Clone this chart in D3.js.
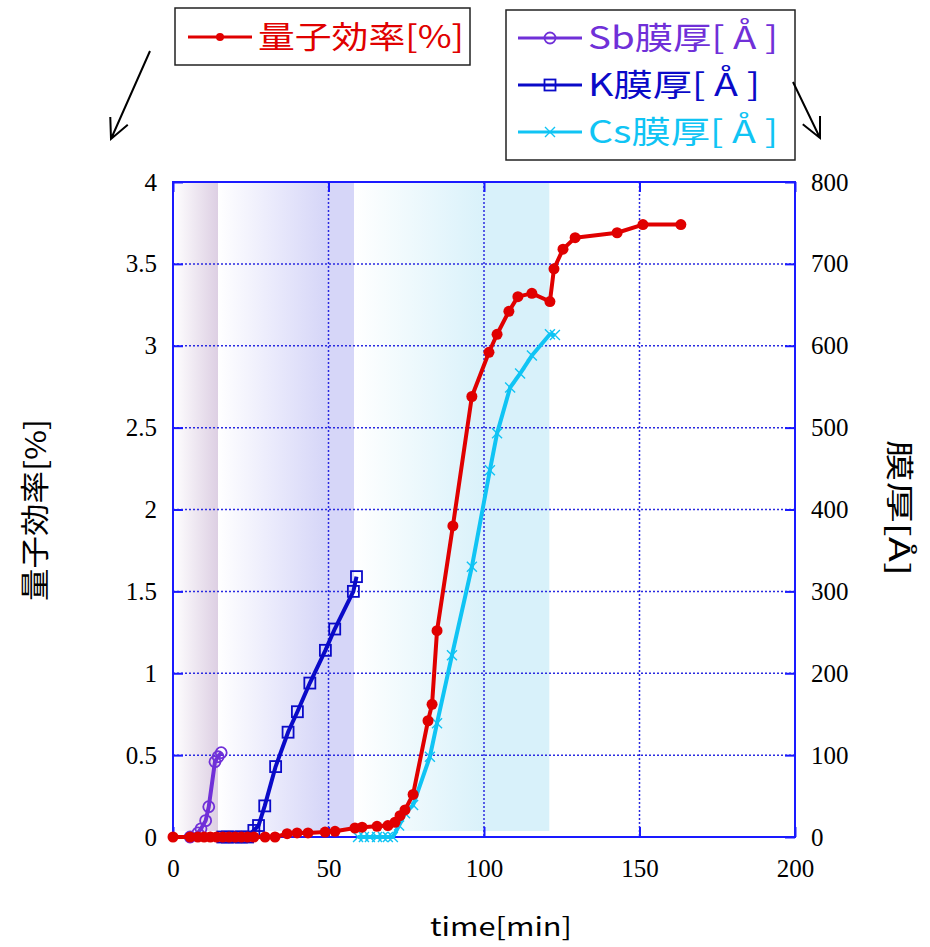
<!DOCTYPE html>
<head>
<meta charset="utf-8">
<style>
body { margin: 0; background: #fff; }
.grid line { stroke: #2a2ae0; stroke-width: 1.5; stroke-dasharray: 2,2; }
.axis path { display: none; }
.axis line { stroke: #1a1aff; stroke-width: 2; }
.axis text { font-family: "Liberation Serif", serif; font-size: 25px; fill: #000; }
.jp { font-family: "Noto Sans CJK JP", sans-serif; }
</style>
</head>
<body>
<div id="chart"></div>
<script src="https://cdn.jsdelivr.net/npm/d3@7"></script>
<script>
(function() {
  "use strict";

  // quantum efficiency [%]
  var qeTime = [0, 5.5, 8, 10, 12, 14, 16, 18, 20, 22, 24, 26, 29.6, 32.8, 36.7, 39.9, 43.4, 48.9, 52.1, 58.5, 60.8, 65.6, 69.1, 71.4, 73, 74.6, 77.2, 82, 83.3, 84.9, 90, 96.1, 101.6, 104.2, 108, 110.9, 115.4, 121.2, 122.5, 125.4, 129.3, 142.8, 151.1, 163.3];
  var qeValue = [0, 0, 0, 0, 0, 0, 0, 0, 0, 0, 0, 0, 0, 0, 0.02, 0.025, 0.025, 0.03, 0.035, 0.055, 0.06, 0.065, 0.07, 0.09, 0.13, 0.165, 0.26, 0.71, 0.81, 1.26, 1.9, 2.69, 2.96, 3.07, 3.21, 3.3, 3.32, 3.27, 3.47, 3.59, 3.66, 3.69, 3.74, 3.74];

  // Sb thickness [A]
  var sbTime = [5.5, 8, 9, 10.5, 11.5, 13.5, 14.5, 15.5];
  var sbValue = [0, 5, 10, 20, 37, 92, 98, 103];

  // K thickness [A]
  var kTime = [16, 17.5, 20, 22, 24, 26, 27.5, 29.5, 33, 37, 40, 44, 49, 52, 58, 59];
  var kValue = [0, 0, 0, 0, 0, 8, 14, 38, 86, 128, 153, 188, 228, 254, 300, 318];

  // Cs thickness [A]
  var csTime = [59.5, 61.4, 63.3, 65.6, 67.5, 69.1, 70.7, 72.7, 74.6, 77.2, 82.6, 84.9, 89.7, 96.1, 101.9, 104.2, 108.4, 111.6, 115.4, 121.2, 122.8];
  var csValue = [0, 0, 0, 0, 0, 0, 0, 14, 29, 39, 98, 139, 222, 330, 448, 493, 549, 566, 588, 614, 613];

  var xTicks = [0, 50, 100, 150, 200];
  var yLeftTicks = [0, 0.5, 1, 1.5, 2, 2.5, 3, 3.5, 4];
  var yRightTicks = [0, 100, 200, 300, 400, 500, 600, 700, 800];

  // shaded deposition periods [start, solidFrom, end] in min
  var bands = [
    {id: "gSb", from: 0, solid: 14.5, to: 14.5, color: "#ddcfe3"},
    {id: "gK", from: 14.5, solid: 49, to: 58.2, color: "#d6d6f8"},
    {id: "gCs", from: 58.2, solid: 101, to: 121, color: "#d8f1fa"}
  ];

  var W = 930, H = 947,
    margin = {top: 182, right: 135, bottom: 110, left: 173},
    w = W - margin.left - margin.right,
    h = H - margin.top - margin.bottom;

  var svg = d3.select("#chart").append("svg")
    .attr("width", W)
    .attr("height", H);

  var defs = svg.append("defs");

  var x = d3.scaleLinear().domain([0, 200]).range([0, w]);
  var yL = d3.scaleLinear().domain([0, 4]).range([h, 0]);
  var yR = d3.scaleLinear().domain([0, 800]).range([h, 0]);

  var g = svg.append("g").attr("transform", "translate(" + margin.left + "," + margin.top + ")");

  // bands
  bands.forEach(function(b) {
    var grad = defs.append("linearGradient").attr("id", b.id)
      .attr("x1", 0).attr("x2", 1).attr("y1", 0).attr("y2", 0);
    var stopAt = (b.solid - b.from) / (b.to - b.from);
    grad.append("stop").attr("offset", 0).attr("stop-color", "#ffffff");
    grad.append("stop").attr("offset", stopAt).attr("stop-color", b.color);
    grad.append("stop").attr("offset", 1).attr("stop-color", b.color);
    g.append("rect")
      .attr("x", x(b.from))
      .attr("y", 0)
      .attr("width", x(b.to) - x(b.from))
      .attr("height", h - 6)
      .attr("fill", "url(#" + b.id + ")");
  });

  // grid
  var grid = g.append("g").attr("class", "grid");
  grid.selectAll(".gx").data(xTicks.slice(1, -1)).enter().append("line")
    .attr("x1", function(d) { return x(d); }).attr("x2", function(d) { return x(d); })
    .attr("y1", 0).attr("y2", h);
  grid.selectAll(".gy").data(yLeftTicks.slice(1, -1)).enter().append("line")
    .attr("x1", 0).attr("x2", w)
    .attr("y1", function(d) { return yL(d); }).attr("y2", function(d) { return yL(d); });

  // axes (ticks point inward)
  g.append("g").attr("class", "axis")
    .attr("transform", "translate(0," + h + ")")
    .call(d3.axisBottom(x).tickValues(xTicks).tickSize(-10).tickPadding(22));
  g.append("g").attr("class", "axis")
    .call(d3.axisTop(x).tickValues(xTicks).tickSize(-10).tickFormat(""));
  g.append("g").attr("class", "axis")
    .call(d3.axisLeft(yL).tickValues(yLeftTicks).tickSize(-10).tickPadding(16).tickFormat(d3.format("")));
  g.append("g").attr("class", "axis")
    .attr("transform", "translate(" + w + ",0)")
    .call(d3.axisRight(yR).tickValues(yRightTicks).tickSize(-10).tickPadding(16));

  g.append("rect")
    .attr("width", w).attr("height", h)
    .attr("fill", "none").attr("stroke", "#1a1aff").attr("stroke-width", 2);

  // series
  function zip(a, b) { return a.map(function(t, i) { return [t, b[i]]; }); }

  function drawSeries(pts, ys, color, marker) {
    var line = d3.line().x(function(d) { return x(d[0]); }).y(function(d) { return ys(d[1]); });
    g.append("path").datum(pts)
      .attr("d", line)
      .attr("fill", "none").attr("stroke", color).attr("stroke-width", 4)
      .attr("stroke-linejoin", "round");
    var m = g.append("g").selectAll("g").data(pts).enter().append("g")
      .attr("transform", function(d) { return "translate(" + x(d[0]) + "," + ys(d[1]) + ")"; });
    marker(m, color);
  }

  function dot(sel, color) {
    sel.append("circle").attr("r", 5.5).attr("fill", color);
  }
  function ring(sel, color) {
    sel.append("circle").attr("r", 5.5).attr("fill", "none").attr("stroke", color).attr("stroke-width", 1.8);
  }
  function square(sel, color) {
    sel.append("rect").attr("x", -5.5).attr("y", -5.5).attr("width", 11).attr("height", 11)
      .attr("fill", "none").attr("stroke", color).attr("stroke-width", 1.8);
  }
  function cross(sel, color) {
    sel.append("path").attr("d", "M-5,-5L5,5M-5,5L5,-5").attr("stroke", color).attr("stroke-width", 1.4);
  }

  var colors = {qe: "#e00000", sb: "#7030d8", k: "#0a0ac8", cs: "#10c4f4"};

  drawSeries(zip(csTime, csValue), yR, colors.cs, cross);
  drawSeries(zip(sbTime, sbValue), yR, colors.sb, ring);
  drawSeries(zip(kTime, kValue), yR, colors.k, square);
  drawSeries(zip(qeTime, qeValue), yL, colors.qe, dot);

  // axis titles
  svg.append("text").attr("class", "jp")
    .attr("x", 501).attr("y", 936).attr("text-anchor", "middle")
    .attr("font-size", 25).attr("textLength", 142).attr("lengthAdjust", "spacingAndGlyphs")
    .text("time[min]");
  svg.append("text").attr("class", "jp")
    .attr("transform", "translate(46,510) rotate(-90)")
    .attr("text-anchor", "middle").attr("font-size", 29)
    .attr("textLength", 182).attr("lengthAdjust", "spacingAndGlyphs")
    .text("量子効率[%]");
  svg.append("text").attr("class", "jp")
    .attr("transform", "translate(889,508) rotate(90)")
    .attr("text-anchor", "middle").attr("font-size", 28)
    .attr("textLength", 136).attr("lengthAdjust", "spacingAndGlyphs")
    .text("膜厚[Å]");

  // legends
  function legendBox(bx, by, bw, bh) {
    svg.append("rect").attr("x", bx).attr("y", by).attr("width", bw).attr("height", bh)
      .attr("fill", "#fff").attr("stroke", "#222").attr("stroke-width", 1.5);
  }
  function legendRow(lx, ly, color, marker, label, len) {
    svg.append("line").attr("x1", lx).attr("x2", lx + 64).attr("y1", ly).attr("y2", ly)
      .attr("stroke", color).attr("stroke-width", 3);
    var m = svg.append("g").attr("transform", "translate(" + (lx + 32) + "," + ly + ")");
    marker(m, color);
    svg.append("text").attr("class", "jp")
      .attr("x", lx + 70).attr("y", ly + 11).attr("font-size", 31)
      .attr("fill", color).attr("textLength", len).attr("lengthAdjust", "spacingAndGlyphs")
      .text(label);
  }

  legendBox(175, 8, 295, 57);
  legendRow(188, 37, colors.qe, function(s, c) { s.append("circle").attr("r", 4).attr("fill", c); }, "量子効率[%]", 206);

  legendBox(506, 10, 289, 150);
  legendRow(518, 38, colors.sb, ring, "Sb膜厚[ Å ]", 190);
  legendRow(518, 85, colors.k, square, "K膜厚[ Å ]", 172);
  legendRow(518, 132, colors.cs, cross, "Cs膜厚[ Å ]", 190);

  // arrows
  function arrow(x1, y1, x2, y2) {
    var a = Math.atan2(y2 - y1, x2 - x1), L = 22, s = 0.45;
    svg.append("path")
      .attr("d", "M" + x1 + "," + y1 + "L" + x2 + "," + y2 +
        "M" + (x2 - L * Math.cos(a - s)) + "," + (y2 - L * Math.sin(a - s)) +
        "L" + x2 + "," + y2 +
        "L" + (x2 - L * Math.cos(a + s)) + "," + (y2 - L * Math.sin(a + s)))
      .attr("fill", "none").attr("stroke", "#000").attr("stroke-width", 2);
  }
  arrow(150, 51, 111, 139);
  arrow(793, 82, 820, 138);
})();
</script>
</body>
